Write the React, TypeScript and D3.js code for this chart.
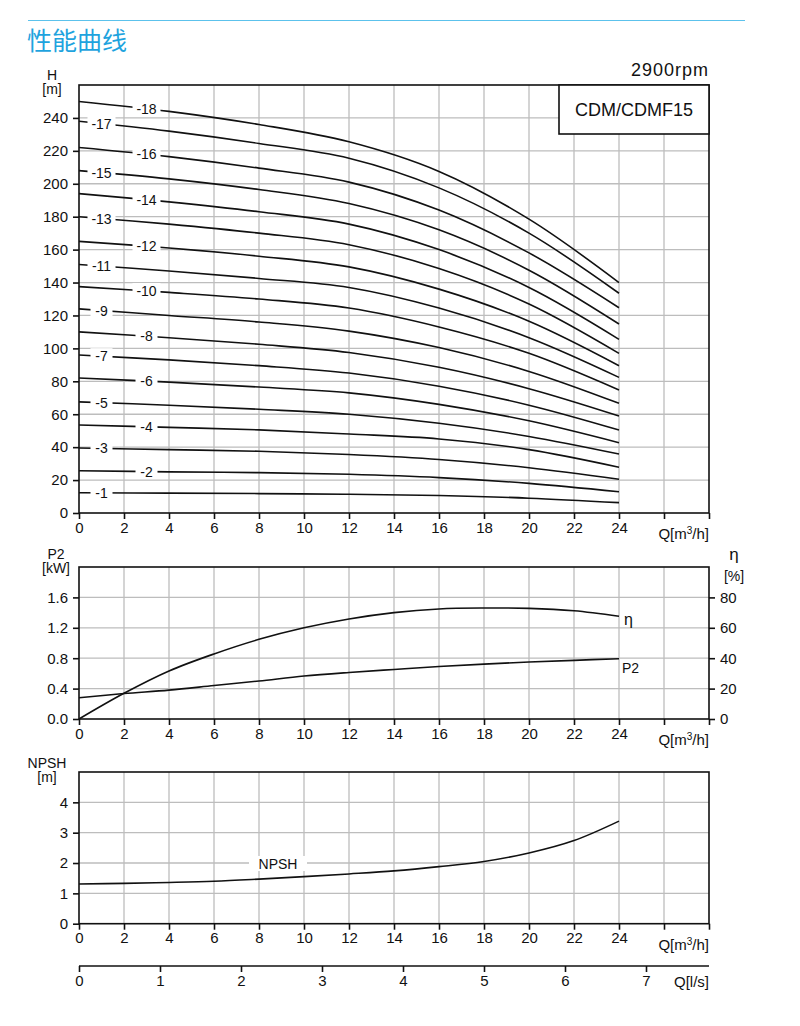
import { useEffect, useRef } from "react"
import * as d3 from "d3"

// flow points the curves were read at [m3/h]
const Q_POINTS = [0, 4, 8, 12, 16, 20, 24]

// head per pump stage (-1 ... -18), values at Q_POINTS [m]
const HEAD_BY_STAGE = [
  [12.3, 12.1, 11.8, 11.4, 10.6, 9.0, 6.3],
  [25.7, 25.0, 24.5, 23.5, 21.5, 18.0, 12.9],
  [39.5, 38.5, 37.5, 35.5, 32.5, 27.5, 20.5],
  [53.5, 52.0, 50.5, 48.0, 45.0, 38.5, 27.8],
  [67.5, 65.5, 63.0, 60.0, 54.5, 46.5, 35.8],
  [82.0, 79.5, 76.5, 73.0, 66.0, 56.0, 42.7],
  [96.0, 93.0, 89.5, 85.0, 77.0, 65.5, 50.4],
  [110.0, 106.5, 102.5, 97.5, 88.5, 75.5, 58.9],
  [124.0, 120.0, 116.0, 110.5, 100.5, 86.0, 66.6],
  [137.5, 134.0, 130.0, 124.5, 113.0, 97.0, 74.7],
  [151.0, 147.0, 142.5, 137.0, 124.5, 106.5, 82.4],
  [165.0, 161.0, 156.0, 149.5, 136.0, 116.5, 89.5],
  [180.0, 175.5, 170.0, 163.0, 148.5, 127.0, 97.0],
  [194.0, 189.0, 183.0, 175.5, 160.0, 137.0, 105.5],
  [208.0, 203.0, 196.5, 188.0, 172.0, 147.5, 114.8],
  [222.0, 216.5, 209.5, 201.0, 184.0, 158.0, 124.7],
  [238.0, 232.0, 224.5, 215.5, 197.5, 170.0, 133.5],
  [250.0, 244.0, 236.0, 225.5, 207.5, 178.5, 140.0],
]

// power, efficiency and NPSH, read every 2 m3/h
const Q_FINE = [0, 2, 4, 6, 8, 10, 12, 14, 16, 18, 20, 22, 24]
const P2_KW = [0.28, 0.335, 0.38, 0.44, 0.5, 0.565, 0.612, 0.652, 0.69, 0.722, 0.75, 0.772, 0.793]
const ETA_PCT = [0, 16.9, 31.6, 42.8, 52.4, 60, 65.8, 70, 72.4, 73, 72.8, 71.2, 67.6]
const NPSH_M = [1.31, 1.33, 1.36, 1.4, 1.47, 1.55, 1.64, 1.74, 1.88, 2.05, 2.33, 2.74, 3.38]

const H_TICKS = d3.range(0, 241, 20)
const P2_TICKS = [0, 0.4, 0.8, 1.2, 1.6]
const ETA_TICKS = [0, 20, 40, 60, 80]
const NPSH_TICKS = [0, 1, 2, 3, 4]
const Q_TICKS = d3.range(0, 29, 2)
const LS_TICKS = d3.range(0, 8)

const FONT = "'Liberation Sans', Arial, sans-serif"
const GRID = "#bdbdbd"
const INK = "#111"
const TICK_FONT = "15px"

export default function App() {
  const svgRef = useRef<SVGSVGElement>(null)

  useEffect(() => {
    if (!svgRef.current) return
    const svg = d3.select(svgRef.current)
    svg.selectAll("*").remove()

    const left = 79
    const right = 709
    const x = d3.scaleLinear().domain([0, 28]).range([left, right])
    const smooth = d3.curveCatmullRom.alpha(0.5)

    // header
    svg.append("line").attr("x1", 28).attr("x2", 745).attr("y1", 20.5).attr("y2", 20.5)
      .attr("stroke", "#5cc2ec").attr("stroke-width", 1)
    svg.append("text").attr("x", 27).attr("y", 50).text("性能曲线")
      .style("font-family", "'Noto Sans CJK SC', sans-serif").style("font-size", "25px").style("fill", "#1ea3de")

    // draws one framed panel with grid and Q axis
    function panel(top: number, bottom: number, y: d3.ScaleLinear<number, number>, yTicks: number[], fmt: (d: number) => string) {
      const g = svg.append("g")
      g.selectAll(".vg").data(Q_TICKS.filter((d) => d > 0 && d < 28)).enter().append("line")
        .attr("x1", (d) => x(d)).attr("x2", (d) => x(d)).attr("y1", top).attr("y2", bottom)
        .attr("stroke", GRID).attr("stroke-width", 1.3)
      g.selectAll(".hg").data(yTicks.filter((d) => d > 0)).enter().append("line")
        .attr("x1", left).attr("x2", right).attr("y1", (d) => y(d)).attr("y2", (d) => y(d))
        .attr("stroke", GRID).attr("stroke-width", 1.3)
      g.append("rect").attr("x", left).attr("y", top).attr("width", right - left).attr("height", bottom - top)
        .attr("fill", "none").attr("stroke", INK).attr("stroke-width", 1.6)

      const ax = g.append("g").attr("transform", `translate(0,${bottom})`)
        .call(d3.axisBottom(x).tickValues(Q_TICKS).tickSize(6).tickSizeOuter(0).tickFormat((d) => (+d <= 24 ? String(d) : "")))
      const ay = g.append("g").attr("transform", `translate(${left},0)`)
        .call(d3.axisLeft(y).tickValues(yTicks).tickSize(6).tickPadding(5).tickSizeOuter(0).tickFormat((d) => fmt(+d)))
      for (const a of [ax, ay]) {
        a.select(".domain").remove()
        a.selectAll("line").attr("stroke", INK).attr("stroke-width", 1.6)
        a.selectAll("text").style("font-family", FONT).style("font-size", TICK_FONT).style("fill", INK)
      }
      const qt = g.append("text").attr("x", right).attr("y", bottom + 26).attr("text-anchor", "end")
        .style("font-family", FONT).style("font-size", TICK_FONT).style("fill", INK)
      qt.append("tspan").text("Q[m")
      qt.append("tspan").attr("dy", -5).style("font-size", "10px").text("3")
      qt.append("tspan").attr("dy", 5).text("/h]")
      return g
    }

    function unitLabel(cx: number, cy: number, name: string, unit: string, size = 14, gap = 14) {
      svg.append("text").attr("x", cx).attr("y", cy).attr("text-anchor", "middle")
        .style("font-family", FONT).style("font-size", `${size}px`).style("fill", INK).text(name)
      svg.append("text").attr("x", cx).attr("y", cy + gap).attr("text-anchor", "middle")
        .style("font-family", FONT).style("font-size", "14px").style("fill", INK).text(unit)
    }

    function boxedLabel(cx: number, cy: number, label: string, w: number) {
      svg.append("rect").attr("x", cx - w / 2).attr("y", cy - 8).attr("width", w).attr("height", 15).attr("fill", "#fff")
      svg.append("text").attr("x", cx).attr("y", cy).attr("text-anchor", "middle").attr("dominant-baseline", "central")
        .style("font-family", FONT).style("font-size", "14px").style("fill", INK).text(label)
    }

    // ---- H chart ----
    const yH = d3.scaleLinear().domain([0, 260]).range([513, 85])
    panel(85, 513, yH, H_TICKS, (d) => String(d))
    unitLabel(52, 80, "H", "[m]")
    svg.append("text").attr("x", right).attr("y", 76).attr("text-anchor", "end")
      .style("font-family", FONT).style("font-size", "18px").style("letter-spacing", "1px").style("fill", INK).text("2900rpm")
    svg.append("rect").attr("x", 559).attr("y", 85).attr("width", right - 559).attr("height", 49)
      .attr("fill", "#fff").attr("stroke", INK).attr("stroke-width", 1.6)
    svg.append("text").attr("x", 634).attr("y", 110).attr("text-anchor", "middle").attr("dominant-baseline", "central")
      .style("font-family", FONT).style("font-size", "18px").style("fill", INK).text("CDM/CDMF15")

    const headLine = d3.line<number>().x((_, i) => x(Q_POINTS[i])).y((d) => yH(d)).curve(smooth)
    HEAD_BY_STAGE.forEach((vals) => {
      svg.append("path").attr("d", headLine(vals)).attr("fill", "none").attr("stroke", INK).attr("stroke-width", 1.6)
    })
    HEAD_BY_STAGE.forEach((vals, i) => {
      const stage = i + 1
      const q = stage % 2 === 1 ? 1 : 3
      const h = vals[0] + (vals[1] - vals[0]) * (q / 4)
      boxedLabel(x(q), yH(h), `-${stage}`, stage >= 10 ? 28 : 22)
    })

    // ---- P2 / eta chart ----
    const yP = d3.scaleLinear().domain([0, 2]).range([719, 567])
    const yEta = d3.scaleLinear().domain([0, 100]).range([719, 567])
    panel(567, 719, yP, P2_TICKS, (d) => d.toFixed(1))
    unitLabel(56, 559, "P2", "[kW]")
    unitLabel(734, 560, "η", "[%]", 17, 21)
    const ar = svg.append("g").attr("transform", `translate(${right},0)`)
      .call(d3.axisRight(yEta).tickValues(ETA_TICKS).tickSize(6).tickPadding(5).tickSizeOuter(0))
    ar.select(".domain").remove()
    ar.selectAll("line").attr("stroke", INK).attr("stroke-width", 1.6)
    ar.selectAll("text").style("font-family", FONT).style("font-size", TICK_FONT).style("fill", INK)

    const pLine = d3.line<number>().x((_, i) => x(Q_FINE[i])).y((d) => yP(d)).curve(smooth)
    const eLine = d3.line<number>().x((_, i) => x(Q_FINE[i])).y((d) => yEta(d)).curve(smooth)
    svg.append("path").attr("d", pLine(P2_KW)).attr("fill", "none").attr("stroke", INK).attr("stroke-width", 1.6)
    svg.append("path").attr("d", eLine(ETA_PCT)).attr("fill", "none").attr("stroke", INK).attr("stroke-width", 1.6)
    svg.append("text").attr("x", x(24) + 5).attr("y", yEta(ETA_PCT[12]) + 9)
      .style("font-family", FONT).style("font-size", "16px").style("fill", INK).text("η")
    svg.append("text").attr("x", x(24) + 3).attr("y", yP(P2_KW[12]) + 14)
      .style("font-family", FONT).style("font-size", "14px").style("fill", INK).text("P2")

    // ---- NPSH chart ----
    const yN = d3.scaleLinear().domain([0, 5]).range([923.7, 772])
    panel(772, 923.7, yN, NPSH_TICKS, (d) => String(d))
    unitLabel(47, 768, "NPSH", "[m]")
    const nLine = d3.line<number>().x((_, i) => x(Q_FINE[i])).y((d) => yN(d)).curve(smooth)
    svg.append("path").attr("d", nLine(NPSH_M)).attr("fill", "none").attr("stroke", INK).attr("stroke-width", 1.6)
    boxedLabel(278, 864, "NPSH", 58)

    // ---- l/s axis ----
    const xLs = d3.scaleLinear().domain([0, 28 / 3.6]).range([left, right])
    svg.append("line").attr("x1", left).attr("x2", right).attr("y1", 966).attr("y2", 966)
      .attr("stroke", INK).attr("stroke-width", 1.6)
    const al = svg.append("g").attr("transform", "translate(0,966)")
      .call(d3.axisBottom(xLs).tickValues(LS_TICKS).tickSize(6).tickSizeOuter(0))
    al.select(".domain").remove()
    al.selectAll("line").attr("stroke", INK).attr("stroke-width", 1.6)
    al.selectAll("text").style("font-family", FONT).style("font-size", TICK_FONT).style("fill", INK)
    svg.append("text").attr("x", right).attr("y", 987).attr("text-anchor", "end")
      .style("font-family", FONT).style("font-size", TICK_FONT).style("fill", INK).text("Q[l/s]")
  }, [])

  return (
    <div style={{ position: "absolute", left: 0, top: 0, background: "#fff" }}>
      <svg ref={svgRef} width={800} height={1026} style={{ display: "block" }}></svg>
    </div>
  )
}
